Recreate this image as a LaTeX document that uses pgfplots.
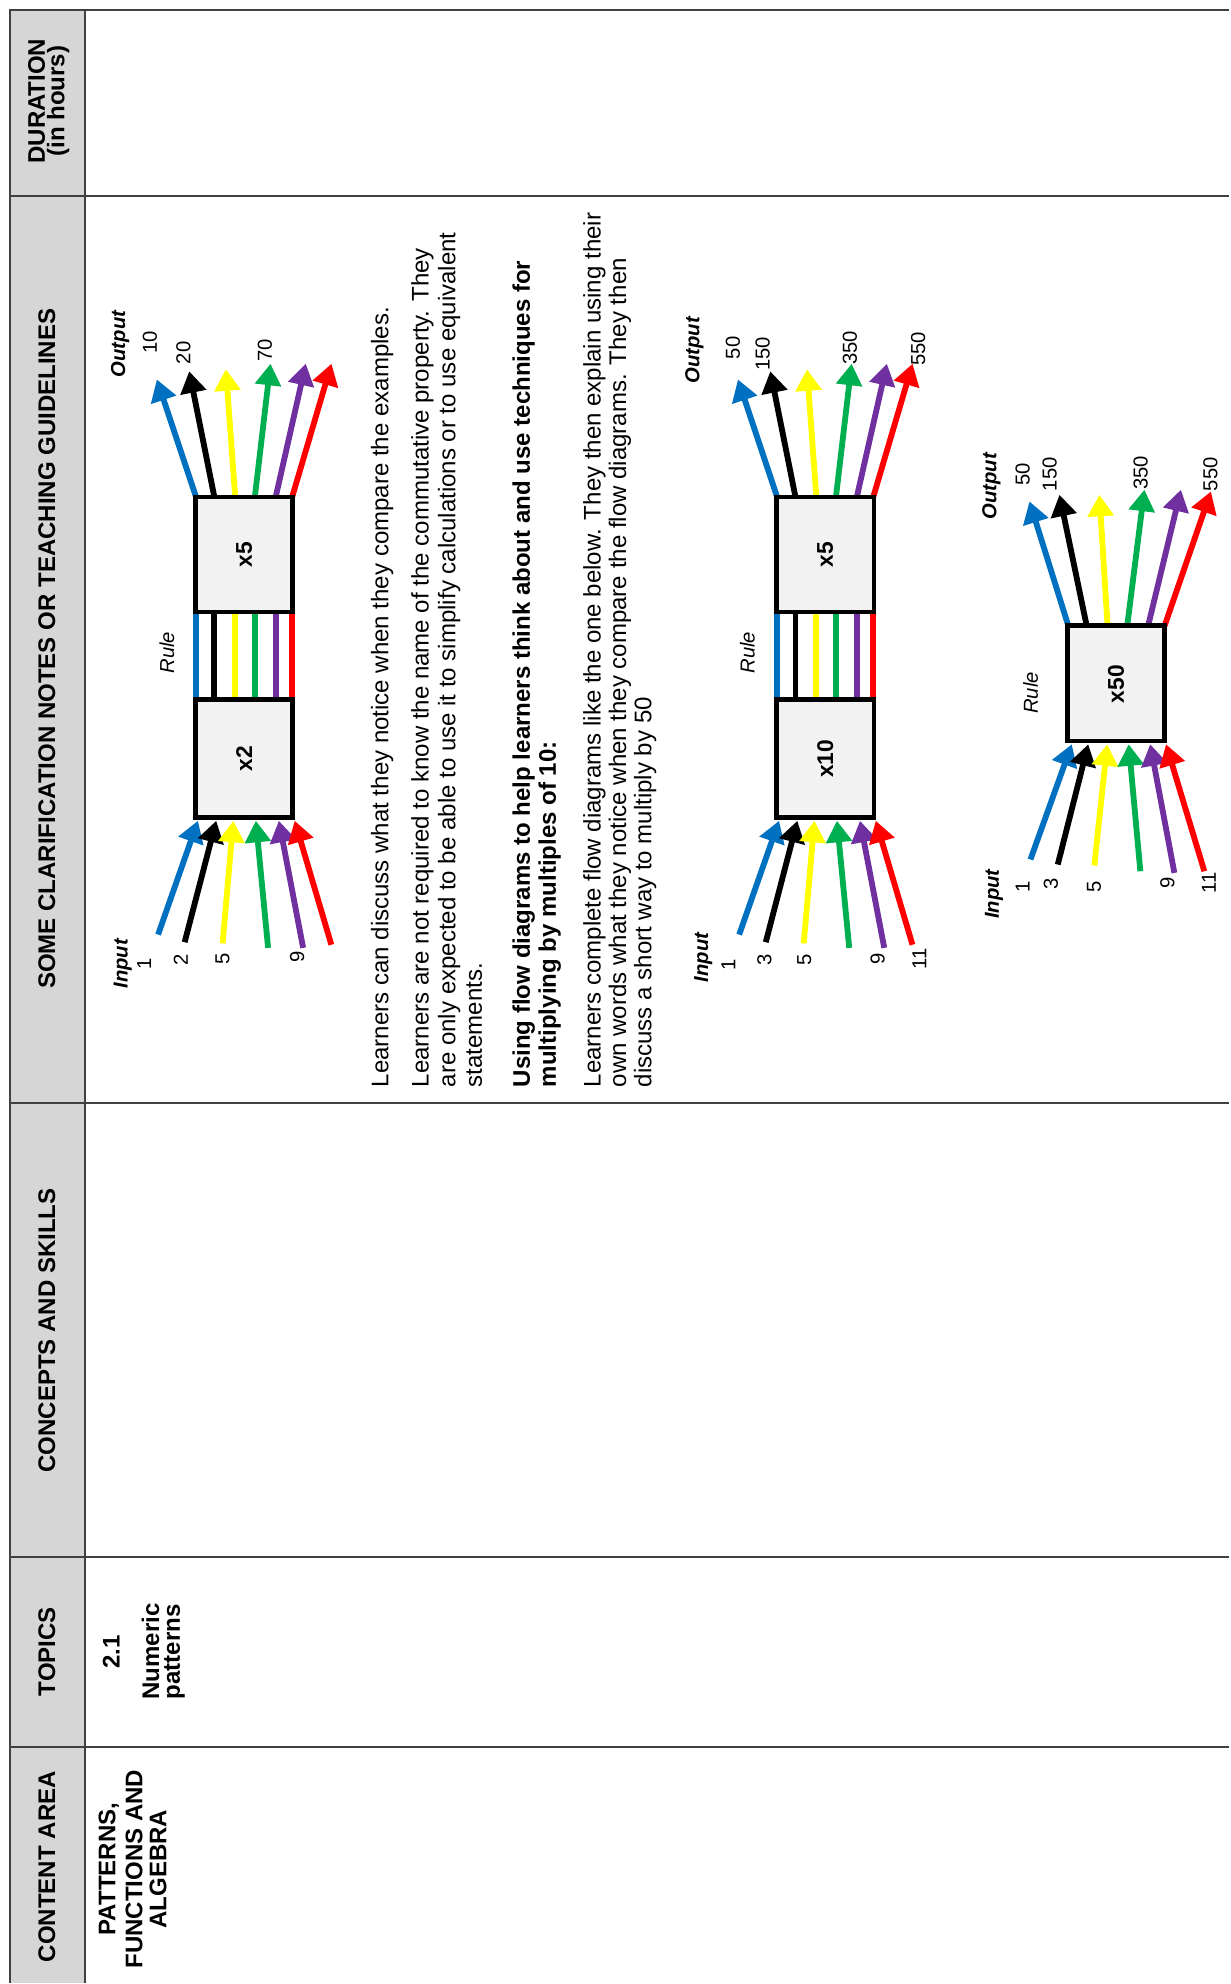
\documentclass[border=0pt]{standalone}
\usepackage{pgfplots}
\pgfplotsset{compat=1.18}
\usetikzlibrary{arrows.meta}
\usepackage{fontspec}
\setmainfont{Liberation Sans}
\definecolor{cblue}{HTML}{0070C0}
\definecolor{cyellow}{HTML}{FFFF00}
\definecolor{cgreen}{HTML}{00B050}
\definecolor{cpurple}{HTML}{7030A0}
\definecolor{cred}{HTML}{FF0000}
\definecolor{hdr}{HTML}{D6D6D6}
\definecolor{boxfill}{HTML}{F2F2F2}
\definecolor{rulec}{HTML}{404040}
\newcommand{\arr}[3]{\addplot[line width=2.3pt,color=#1,-{Triangle[length=8.5pt,width=10pt]}] coordinates {#2 #3};}
\newcommand{\seg}[3]{\addplot[line width=2.3pt,color=#1] coordinates {#2 #3};}
\newcommand{\flowbox}[4]{\addplot[line width=1.8pt,draw=black,fill=boxfill] coordinates {(#1,#3) (#2,#3) (#2,#4) (#1,#4)} -- cycle;}
\newcommand{\rt}[4]{\node[rotate=90,anchor=#1,font=#2,inner sep=0pt] at (axis cs:#3) {#4};}
\begin{document}
\begin{tikzpicture}
\begin{axis}[width=486pt,height=784pt,scale only axis,xmin=0,xmax=972,ymin=0,ymax=1568,
  y dir=reverse,axis lines=none,ticks=none,clip=false]
% extent
\addplot[draw=none] coordinates {(0,0) (972,1568)};
% header column
\addplot[fill=hdr,draw=none] coordinates {(8,8) (67,8) (67,1568) (8,1568)} -- cycle;
% table lines
\addplot[rulec,line width=0.8pt] coordinates {(8,1568) (8,8) (972,8)};
\addplot[rulec,line width=0.8pt] coordinates {(67,8) (67,1568)};
\addplot[rulec,line width=0.8pt] coordinates {(8,155) (972,155)};
\addplot[rulec,line width=0.8pt] coordinates {(8,872) (972,872)};
\addplot[rulec,line width=0.8pt] coordinates {(8,1231) (972,1231)};
\addplot[rulec,line width=0.8pt] coordinates {(8,1381) (972,1381)};
% headers
\rt{center}{\fontsize{9.5}{10}\selectfont\bfseries}{29,80}{DURATION}
\rt{center}{\fontsize{9.5}{10}\selectfont\bfseries}{46,80}{(in hours)}
\rt{center}{\fontsize{9.5}{10}\selectfont\bfseries}{37,513}{SOME CLARIFICATION NOTES OR TEACHING GUIDELINES}
\rt{center}{\fontsize{9.5}{10}\selectfont\bfseries}{37,1052}{CONCEPTS AND SKILLS}
\rt{center}{\fontsize{9.5}{10}\selectfont\bfseries}{37,1306}{TOPICS}
\rt{center}{\fontsize{9.5}{10}\selectfont\bfseries}{37,1476}{CONTENT AREA}
% topics / content
\rt{center}{\fontsize{9.5}{10}\selectfont\bfseries}{88,1306}{2.1}
\rt{center}{\fontsize{9.5}{10}\selectfont\bfseries}{119,1306}{Numeric}
\rt{center}{\fontsize{9.5}{10}\selectfont\bfseries}{138,1306}{patterns}
\rt{center}{\fontsize{9.5}{10}\selectfont\bfseries}{86,1478}{PATTERNS,}
\rt{center}{\fontsize{9.5}{10}\selectfont\bfseries}{106,1478}{FUNCTIONS AND}
\rt{center}{\fontsize{9.5}{10}\selectfont\bfseries}{125,1478}{ALGEBRA}
% paragraph text
\rt{base west}{\fontsize{9.5}{10}\selectfont}{307,860}{Learners can discuss what they notice when they compare the examples.}
\rt{base west}{\fontsize{9.5}{10}\selectfont}{339,860}{Learners are not required to know the name of the commutative property. They}
\rt{base west}{\fontsize{9.5}{10}\selectfont}{360,860}{are only expected to be able to use it to simplify calculations or to use equivalent}
\rt{base west}{\fontsize{9.5}{10}\selectfont}{381,860}{statements.}
\rt{base west}{\fontsize{9.5}{10}\selectfont\bfseries}{419,860}{Using flow diagrams to help learners think about and use techniques for}
\rt{base west}{\fontsize{9.5}{10}\selectfont\bfseries}{439.5,860}{multiplying by multiples of 10:}
\rt{base west}{\fontsize{9.5}{10}\selectfont}{475,860}{Learners complete flow diagrams like the one below. They then explain using their}
\rt{base west}{\fontsize{9.5}{10}\selectfont}{495,860}{own words what they notice when they compare the flow diagrams. They then}
\rt{base west}{\fontsize{9.5}{10}\selectfont}{515,860}{discuss a short way to multiply by 50}
% ===== Diagram 1 =====
\seg{cblue}{(155,484)}{(155,553)}
\seg{black}{(169.5,484)}{(169.5,553)}
\seg{cyellow}{(186,484)}{(186,553)}
\seg{cgreen}{(201.5,484)}{(201.5,553)}
\seg{cpurple}{(218,484)}{(218,553)}
\seg{cred}{(231,484)}{(231,553)}
\arr{cblue}{(155,393)}{(124,300)}
\arr{black}{(169.5,393)}{(149.6,293.6)}
\arr{cyellow}{(186,393)}{(178.6,292)}
\arr{cgreen}{(201.5,393)}{(213.9,287.6)}
\arr{cpurple}{(218,393)}{(241.8,287.6)}
\arr{cred}{(231,393)}{(262.1,287.6)}
\arr{cblue}{(125,739)}{(156.5,649)}
\arr{black}{(146,745)}{(171,649)}
\arr{cyellow}{(176,746)}{(184.5,649)}
\arr{cgreen}{(212,749.5)}{(202.3,649)}
\arr{cpurple}{(239.7,749.5)}{(220.5,649)}
\arr{cred}{(262,747)}{(233,649)}
\flowbox{154.5}{231.5}{393}{484}
\flowbox{154.5}{231.5}{553}{646.5}
\rt{center}{\fontsize{9}{10}\selectfont\bfseries}{193,438.5}{x5}
\rt{center}{\fontsize{9}{10}\selectfont\bfseries}{193,600}{x2}
\rt{center}{\fontsize{8}{9}\selectfont\itshape}{132,516}{Rule}
\rt{center}{\fontsize{8}{9}\selectfont\bfseries\itshape}{97,762}{Input}
\rt{center}{\fontsize{8}{9}\selectfont}{114,762}{1}
\rt{center}{\fontsize{8}{9}\selectfont}{143,759}{2}
\rt{center}{\fontsize{8}{9}\selectfont}{176,758}{5}
\rt{center}{\fontsize{8}{9}\selectfont}{235,757}{9}
\rt{center}{\fontsize{8}{9}\selectfont\bfseries\itshape}{95,272}{Output}
\rt{center}{\fontsize{8}{9}\selectfont}{118.5,271}{10}
\rt{center}{\fontsize{8}{9}\selectfont}{145,279}{20}
\rt{center}{\fontsize{8}{9}\selectfont}{209.5,277}{70}
% ===== Diagram 2 =====
\seg{cblue}{(614.5,484)}{(614.5,553)}
\seg{black}{(629,484)}{(629,553)}
\seg{cyellow}{(645.5,484)}{(645.5,553)}
\seg{cgreen}{(661,484)}{(661,553)}
\seg{cpurple}{(677.5,484)}{(677.5,553)}
\seg{cred}{(690.5,484)}{(690.5,553)}
\arr{cblue}{(614.5,393)}{(583.5,300)}
\arr{black}{(629,393)}{(609.1,293.6)}
\arr{cyellow}{(645.5,393)}{(638.1,292)}
\arr{cgreen}{(661,393)}{(673.4,287.6)}
\arr{cpurple}{(677.5,393)}{(701.3,287.6)}
\arr{cred}{(690.5,393)}{(721.6,287.6)}
\arr{cblue}{(584.5,739)}{(616,649)}
\arr{black}{(605.5,745)}{(630.5,649)}
\arr{cyellow}{(635.5,746)}{(644,649)}
\arr{cgreen}{(671.5,749.5)}{(661.8,649)}
\arr{cpurple}{(699.2,749.5)}{(680,649)}
\arr{cred}{(721.5,747)}{(692.5,649)}
\flowbox{614}{691}{393}{484}
\flowbox{614}{691}{553}{646.5}
\rt{center}{\fontsize{9}{10}\selectfont\bfseries}{652.5,438.5}{x5}
\rt{center}{\fontsize{9}{10}\selectfont\bfseries}{652.5,600}{x10}
\rt{center}{\fontsize{8}{9}\selectfont\itshape}{591,516}{Rule}
\rt{center}{\fontsize{8}{9}\selectfont\bfseries\itshape}{556,757}{Input}
\rt{center}{\fontsize{8}{9}\selectfont}{576,763}{1}
\rt{center}{\fontsize{8}{9}\selectfont}{604.5,759}{3}
\rt{center}{\fontsize{8}{9}\selectfont}{636,759}{5}
\rt{center}{\fontsize{8}{9}\selectfont}{694,758}{9}
\rt{center}{\fontsize{8}{9}\selectfont}{727,758}{11}
\rt{center}{\fontsize{8}{9}\selectfont\bfseries\itshape}{549,277}{Output}
\rt{center}{\fontsize{8}{9}\selectfont}{579.5,275}{50}
\rt{center}{\fontsize{8}{9}\selectfont}{603,280}{150}
\rt{center}{\fontsize{8}{9}\selectfont}{672,275}{350}
\rt{center}{\fontsize{8}{9}\selectfont}{726,276}{550}
% ===== Diagram 3 =====
\arr{cblue}{(844.8,495)}{(814,396.5)}
\arr{black}{(859.3,495)}{(837.7,391.2)}
\arr{cyellow}{(875.8,495)}{(869.3,391.2)}
\arr{cgreen}{(891.3,495)}{(904.9,387.2)}
\arr{cpurple}{(907.8,495)}{(933.8,387.2)}
\arr{cred}{(920.8,495)}{(957.5,388.6)}
\arr{cblue}{(814.8,679.6)}{(847.5,588.5)}
\arr{black}{(836.4,683.6)}{(860.5,588.5)}
\arr{cyellow}{(865.3,684.4)}{(875.5,588.5)}
\arr{cgreen}{(901.7,688.9)}{(892.5,588.5)}
\arr{cpurple}{(928.6,690.2)}{(909.5,588.5)}
\arr{cred}{(952.3,688.9)}{(922,588.5)}
\flowbox{844.3}{920.7}{494.7}{586}
\rt{center}{\fontsize{9}{10}\selectfont\bfseries}{882.5,541}{x50}
\rt{center}{\fontsize{8}{9}\selectfont\itshape}{815,548}{Rule}
\rt{center}{\fontsize{8}{9}\selectfont\bfseries\itshape}{786,707}{Input}
\rt{center}{\fontsize{8}{9}\selectfont}{808.7,701}{1}
\rt{center}{\fontsize{8}{9}\selectfont}{831,699}{3}
\rt{center}{\fontsize{8}{9}\selectfont}{865,701}{5}
\rt{center}{\fontsize{8}{9}\selectfont}{923,698}{9}
\rt{center}{\fontsize{8}{9}\selectfont}{956,698}{11}
\rt{center}{\fontsize{8}{9}\selectfont\bfseries\itshape}{784,384.5}{Output}
\rt{center}{\fontsize{8}{9}\selectfont}{808.7,375}{50}
\rt{center}{\fontsize{8}{9}\selectfont}{830,375}{150}
\rt{center}{\fontsize{8}{9}\selectfont}{902,374}{350}
\rt{center}{\fontsize{8}{9}\selectfont}{957,375}{550}
\end{axis}
\end{tikzpicture}
\end{document}
